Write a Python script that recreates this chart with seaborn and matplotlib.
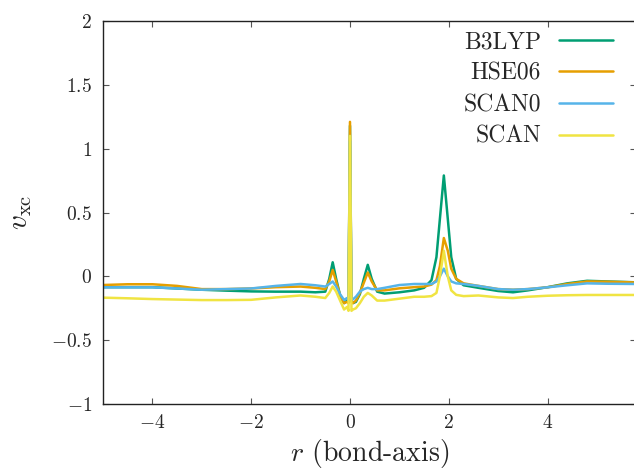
import pandas as pd
import matplotlib
matplotlib.use("Agg")
import matplotlib.pyplot as plt
import seaborn as sns

# sample positions along the bond axis
r = [-5.0, -4.5, -4.0, -3.5, -3.0, -2.5, -2.0, -1.5, -1.0, -0.7, -0.5, -0.42,
     -0.35, -0.28, -0.2, -0.12, -0.06, -0.03, 0.0, 0.03, 0.06, 0.12, 0.2, 0.28,
     0.36, 0.44, 0.55, 0.7, 1.0, 1.3, 1.5, 1.65, 1.75, 1.82, 1.9, 1.98, 2.05,
     2.15, 2.3, 2.6, 3.0, 3.3, 3.6, 4.0, 4.4, 4.8, 5.2, 5.8]

b3lyp = [-0.085, -0.085, -0.085, -0.095, -0.105, -0.112, -0.118, -0.12, -0.12,
         -0.125, -0.12, -0.02, 0.11, -0.02, -0.15, -0.21, -0.19, -0.2, 1.18,
         -0.19, -0.21, -0.2, -0.14, -0.02, 0.09, -0.02, -0.12, -0.135, -0.125,
         -0.11, -0.09, -0.03, 0.15, 0.45, 0.79, 0.45, 0.15, -0.02, -0.07, -0.09,
         -0.115, -0.125, -0.11, -0.085, -0.055, -0.035, -0.04, -0.047]

hse06 = [-0.068, -0.062, -0.062, -0.075, -0.1, -0.1, -0.095, -0.085, -0.08,
         -0.09, -0.1, -0.04, 0.05, -0.04, -0.15, -0.21, -0.2, -0.21, 1.21,
         -0.2, -0.21, -0.19, -0.13, -0.05, 0.03, -0.04, -0.11, -0.11, -0.094,
         -0.085, -0.08, -0.065, -0.03, 0.08, 0.3, 0.2, 0.06, -0.02, -0.055,
         -0.075, -0.1, -0.105, -0.1, -0.086, -0.06, -0.04, -0.042, -0.048]

scan0 = [-0.086, -0.086, -0.086, -0.095, -0.105, -0.1, -0.095, -0.075, -0.06,
         -0.07, -0.08, -0.06, -0.04, -0.08, -0.14, -0.185, -0.17, -0.19, 1.06,
         -0.17, -0.18, -0.16, -0.12, -0.1, -0.09, -0.1, -0.1, -0.09, -0.068,
         -0.06, -0.06, -0.06, -0.04, 0.0, 0.06, 0.0, -0.04, -0.055, -0.06,
         -0.075, -0.1, -0.105, -0.1, -0.086, -0.07, -0.055, -0.058, -0.06]

scan = [-0.167, -0.172, -0.178, -0.182, -0.186, -0.186, -0.184, -0.165, -0.15,
        -0.16, -0.17, -0.13, -0.08, -0.12, -0.19, -0.26, -0.24, -0.27, 1.10,
        -0.27, -0.26, -0.25, -0.21, -0.16, -0.13, -0.15, -0.19, -0.19, -0.175,
        -0.16, -0.16, -0.155, -0.13, 0.0, 0.2, 0.0, -0.11, -0.145, -0.155,
        -0.15, -0.165, -0.17, -0.16, -0.152, -0.148, -0.146, -0.146, -0.146]

names = ["B3LYP", "HSE06", "SCAN0", "SCAN"]
colors = ["#009E73", "#E69F00", "#56B4E9", "#F0E442"]
xticks = [-4, -2, 0, 2, 4]
yticks = [-1, -0.5, 0, 0.5, 1, 1.5, 2]

sns.set_style("ticks")
plt.rcParams["font.family"] = "serif"
plt.rcParams["font.serif"] = ["cmr10"]
plt.rcParams["mathtext.fontset"] = "cm"
plt.rcParams["axes.formatter.use_mathtext"] = True
plt.rcParams["axes.unicode_minus"] = True

# long-form table for seaborn
frames = []
for name, vals in zip(names, [b3lyp, hse06, scan0, scan]):
    frames.append(pd.DataFrame({"r": r, "v": vals, "method": name}))
df = pd.concat(frames, ignore_index=True)

fig = plt.figure(figsize=(6.34, 4.73), dpi=100)
ax = fig.add_axes([103 / 634, 69 / 473, 533 / 634, 383 / 473])

sns.lineplot(data=df, x="r", y="v", hue="method", hue_order=names,
             palette=colors, estimator=None, sort=False, linewidth=1.8,
             ax=ax, legend=False)

ax.set_xlim(-5, 5.79)
ax.set_ylim(-1, 2)
ax.set_xticks(xticks)
ax.set_yticks(yticks)
ax.set_yticklabels([f"${t:g}$" for t in yticks])
ax.set_xticklabels([f"${t}$" for t in xticks])
ax.tick_params(direction="in", length=4, width=0.8, color="#555555",
               labelsize=14, top=True, right=True, pad=7)
ax.tick_params(axis="y", pad=8)
for s in ax.spines.values():
    s.set_linewidth(1.0)
    s.set_color("#222222")

ax.set_xlabel(r"$r$ (bond-axis)", fontsize=20, labelpad=4)
ax.set_ylabel(r"$v_{\mathrm{xc}}$", fontsize=21, labelpad=12)

handles = [plt.Line2D([], [], color=c, lw=1.8) for c in colors]
ax.legend(handles, names, loc="upper right", frameon=False, markerfirst=False,
          fontsize=17, handlelength=2.3, handletextpad=0.75,
          labelspacing=0.4, borderpad=0, borderaxespad=0,
          bbox_to_anchor=(613 / 634, 1 - 31 / 473),
          bbox_transform=fig.transFigure)

fig.savefig("out.png", dpi=100)
